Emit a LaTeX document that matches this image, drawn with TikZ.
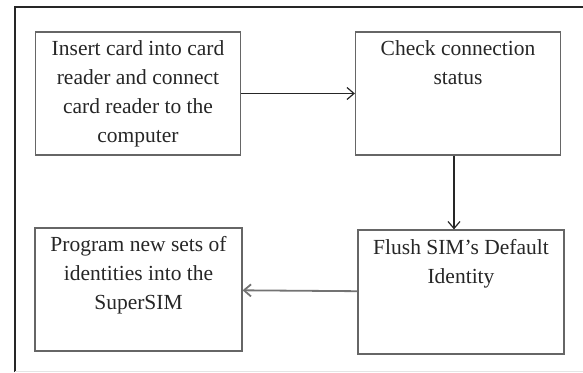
\documentclass[tikz,border=0pt]{standalone}
\usepackage{fontspec}
\setmainfont{Liberation Serif}
\usetikzlibrary{arrows.meta}

\tikzset{
	stepbox/.style={draw=black!60, line width=1.2pt, minimum width=205, minimum height=123, inner sep=0pt},
	boxtext/.style={align=center, font=\fontsize{21.5}{29}\selectfont, text=black!85},
	flow/.style={line width=1.2pt, -{Straight Barb[length=7pt,width=12pt]}}
}

\begin{document}
\begin{tikzpicture}[x=1pt, y=-1pt]
	\useasboundingbox (0,0) rectangle (583,372);
	% frame
	\draw[line width=2.5pt, black!85] (15,372) -- (15,7) -- (583,7);
	\draw[line width=0.8pt, black!10] (15,371) -- (583,371);
	% boxes
	\node[stepbox] (insert) at (138,93.5) {};
	\node[boxtext] (inserttext) at (insert.center) {Insert card into card\\reader and connect\\card reader to the\\computer};
	\node[stepbox] (check) at (458,93.5) {};
	\node[boxtext, anchor=north] (checktext) at ([yshift=-6]check.north) {Check connection\\status};
	\node[stepbox, minimum width=206, minimum height=124] (flush) at (461,292) {};
	\node[boxtext, anchor=north] (flushtext) at ([yshift=-6]flush.north) {Flush SIM's Default\\Identity};
	\node[stepbox, minimum width=207] (program) at (138.5,289.5) {};
	\node[boxtext, anchor=north] (programtext) at ([yshift=-5]program.north) {Program new sets of\\identities into the\\SuperSIM};
	% arrows
	\draw[flow, black!85] (insert) -- (check);
	\draw[flow, black!85] ([xshift=-4]check.south) -- ([xshift=-7]flush.north);
	\draw[flow, black!55, line width=1.8pt] (flush) -- (program);
\end{tikzpicture}
\end{document}
